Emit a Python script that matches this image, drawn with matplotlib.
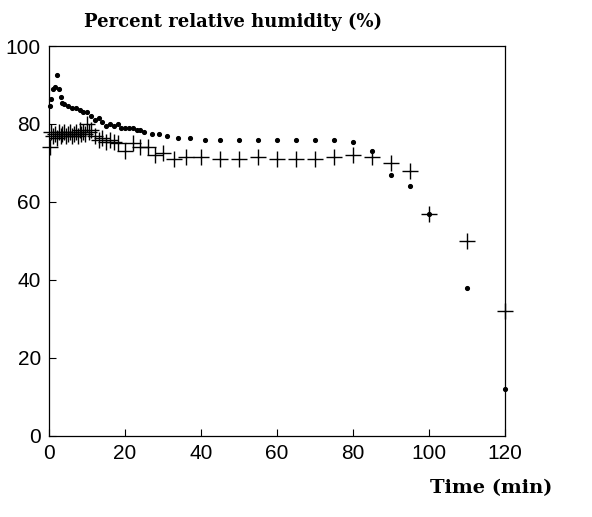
import matplotlib.pyplot as plt
import numpy as np

plt.rcParams['font.family'] = 'Liberation Sans'

# dots series
dot_t = [0.3, 0.6, 1, 1.5, 2, 2.5, 3, 3.5, 4, 5, 6, 7, 8, 9, 10, 11, 12, 13, 14,
         15, 16, 17, 18, 19, 20, 21, 22, 23, 24, 25, 27, 29, 31, 34, 37, 41, 45,
         50, 55, 60, 65, 70, 75, 80, 85, 90, 95, 100, 110, 120]
dot_v = [84.5, 86.5, 89, 89.5, 92.5, 89, 87, 85.5, 85, 84.5, 84, 84, 83.5, 83, 83,
         82, 81, 81.5, 80.5, 79.5, 80, 79.5, 80, 79, 79, 79, 79, 78.5, 78.5, 78,
         77.5, 77.5, 77, 76.5, 76.5, 76, 76, 76, 76, 75.8, 76, 75.8, 76,
         75.3, 73, 67, 64, 57, 38, 12]

# crosses series
cross_t = [0.3, 0.5, 1, 1.5, 2, 2.5, 3, 3.5, 4, 4.5, 5, 5.5, 6, 6.5, 7, 7.5, 8,
           8.5, 9, 9.5, 10, 10.5, 11, 12, 13, 14, 15, 16, 17, 18, 20, 22, 24,
           26, 28, 30, 33, 36, 40, 45, 50, 55, 60, 65, 70, 75, 80, 85, 90, 95,
           100, 110, 120]
cross_v = [74, 78, 77, 77.5, 76.5, 78, 77, 77.5, 78, 77, 77.5, 78, 77, 77.5, 78,
           77, 78.5, 77.5, 78, 77.5, 80, 78, 78.5, 77, 76, 76.5, 75.5, 76, 75.5,
           75, 73, 75, 74, 74, 72, 72.5, 71, 71.5, 71.5, 71, 71, 71.5, 71, 71,
           71, 71.5, 72, 71.5, 70, 68, 57, 50, 32]

fig = plt.figure(figsize=(5.92, 5.17), dpi=100)
ax = fig.add_axes([0.083, 0.157, 0.77, 0.754])

ax.plot(cross_t, cross_v, linestyle='none', marker='+', color='black',
        markersize=11, markeredgewidth=1.0, clip_on=False)
ax.plot(dot_t, dot_v, linestyle='none', marker='o', color='black',
        markersize=2.7, clip_on=False)

ax.set_xlim(0, 120)
ax.set_ylim(0, 100)
ax.set_xticks(np.arange(0, 121, 20))
ax.set_yticks(np.arange(0, 101, 20))
ax.tick_params(direction='in', length=5, width=0.8, labelsize=15, pad=6)
for s in ax.spines.values():
    s.set_linewidth(0.9)

fig.text(0.142, 0.958, 'Percent relative humidity (%)', family='DejaVu Serif',
         fontweight='bold', fontsize=13, va='center')
fig.text(0.726, 0.055, 'Time (min)', family='DejaVu Serif',
         fontweight='bold', fontsize=14, va='center')

plt.savefig('out.png')
